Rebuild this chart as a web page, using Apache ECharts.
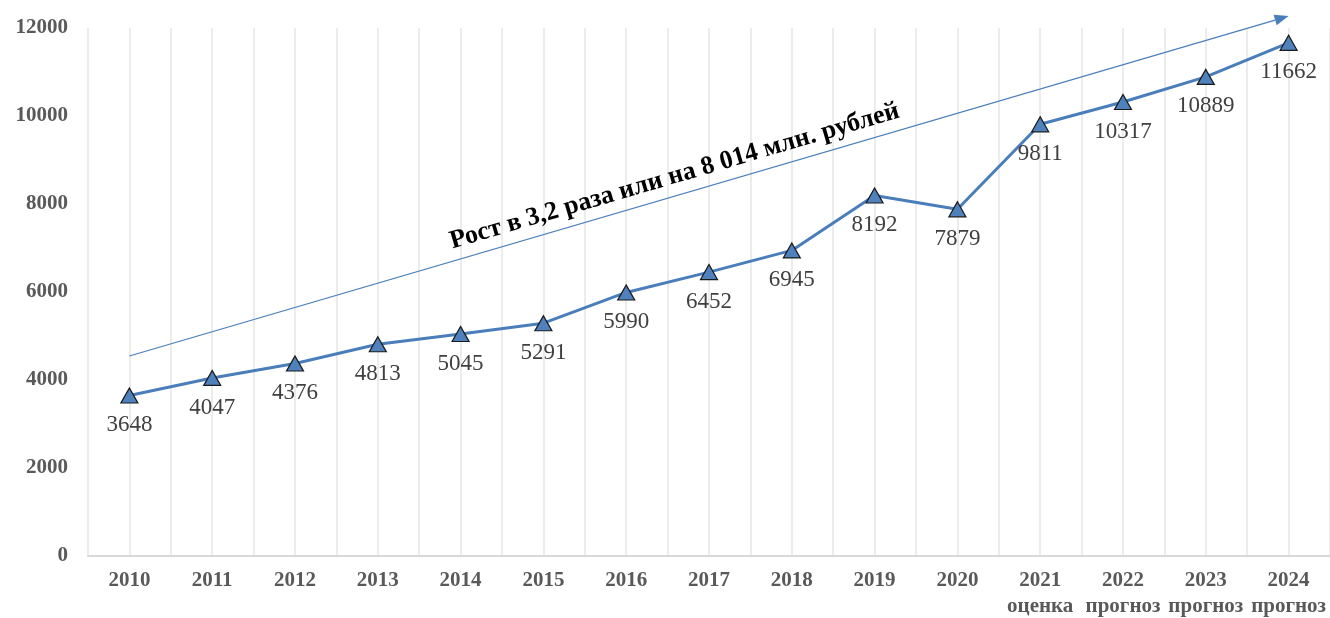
<!DOCTYPE html>
<html>
<head>
<meta charset="utf-8">
<title>chart</title>
<script src="https://cdn.jsdelivr.net/npm/echarts@6/dist/echarts.min.js"></script>
</head>
<body style="margin:0">
<div id="main" style="width:1330px;height:618px;"></div>
<script type="text/javascript">
var years = ['2010','2011','2012','2013','2014','2015','2016','2017','2018','2019','2020','2021','2022','2023','2024'];
var notes = ['','','','','','','','','','','','оценка','прогноз','прогноз','прогноз'];
var values = [3648, 4047, 4376, 4813, 5045, 5291, 5990, 6452, 6945, 8192, 7879, 9811, 10317, 10889, 11662];
// trend arrow ends: [category index, value]
var arrowFrom = [-0.04, 4545];
var arrowTo = [13.95, 12270];
var arrowText = 'Рост в 3,2 раза или на 8 014 млн. рублей';

var serif = "'Liberation Serif', 'Times New Roman', serif";
var cats = years.map(function (y, i) { return notes[i] ? y + '\n' + notes[i] : y; });

var myChart = echarts.init(document.getElementById('main'));
var option = {
    animation: false,
    grid: { left: 88, right: 0, top: 28, bottom: 62, outerBoundsMode: 'none' },
    xAxis: [{
        type: 'category',
        data: cats,
        axisLine: { lineStyle: { color: '#d9d9d9', width: 2 } },
        axisTick: { show: false },
        splitLine: { show: false },
        axisLabel: {
            interval: 0,
            color: '#595959', fontFamily: serif, fontWeight: 'bold',
            fontSize: 21, lineHeight: 26, margin: 12
        }
    }, {
        // half-category grid lines
        type: 'value', min: 0, max: 30, interval: 1,
        position: 'bottom',
        axisLine: { show: false }, axisTick: { show: false }, axisLabel: { show: false },
        splitLine: { show: true, lineStyle: { color: '#ececec', width: 2 } }
    }],
    yAxis: {
        type: 'value', min: 0, max: 12000, interval: 2000,
        axisLine: { show: false }, axisTick: { show: false },
        splitLine: { show: false },
        axisLabel: {
            formatter: function (v) { return String(v); },
            color: '#595959', fontFamily: serif, fontWeight: 'bold',
            fontSize: 21, margin: 20
        }
    },
    series: [{
        type: 'line',
        data: values,
        xAxisIndex: 0,
        symbol: 'triangle',
        symbolSize: [17, 15],
        lineStyle: { color: '#4a7ebb', width: 3 },
        itemStyle: { color: '#4f81bd', borderColor: '#1a1a1a', borderWidth: 1.2 },
        label: {
            show: true, position: 'bottom', distance: 10,
            color: '#404040', fontFamily: serif, fontSize: 23
        }
    }]
};
myChart.setOption(option);

// trend arrow with rotated caption
var p1 = myChart.convertToPixel({ xAxisIndex: 0, yAxisIndex: 0 }, arrowFrom);
var p2 = myChart.convertToPixel({ xAxisIndex: 0, yAxisIndex: 0 }, arrowTo);
var dx = p2[0] - p1[0], dy = p2[1] - p1[1];
var len = Math.sqrt(dx * dx + dy * dy);
var ux = dx / len, uy = dy / len;
var ang = Math.atan2(-dy, dx);
var headL = 14, headW = 5.5;
var bx = p2[0] - ux * headL, by = p2[1] - uy * headL;
var t = 0.475, off = 19;
var tx = p1[0] + dx * t + uy * off, ty = p1[1] + dy * t - ux * off;
myChart.setOption({
    graphic: [{
        type: 'line', silent: true,
        shape: { x1: p1[0], y1: p1[1], x2: bx, y2: by },
        style: { stroke: '#4a7ebb', lineWidth: 1.2 }
    }, {
        type: 'polygon', silent: true,
        shape: { points: [[p2[0], p2[1]], [bx - uy * headW, by + ux * headW], [bx + uy * headW, by - ux * headW]] },
        style: { fill: '#4a7ebb' }
    }, {
        type: 'text', silent: true,
        x: tx, y: ty, rotation: ang,
        style: {
            text: arrowText, align: 'center', verticalAlign: 'middle',
            fill: '#000', font: 'bold 26px ' + serif
        }
    }]
});
</script>
</body>
</html>
